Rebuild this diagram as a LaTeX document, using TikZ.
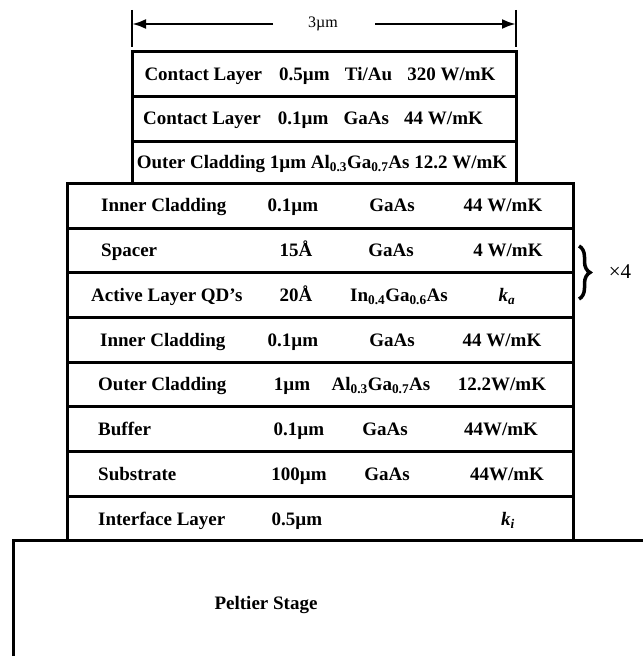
\documentclass[tikz,border=0pt]{standalone}
\usepackage{fontspec}
\setmainfont{Liberation Serif}
\usetikzlibrary{arrows.meta, decorations.pathreplacing}

\begin{document}
\begin{tikzpicture}[
    x=1pt, y=-1pt,
    layer/.style={line width=3pt},
    dimline/.style={line width=2.5pt},
    dimarrow/.style={-{Latex[length=14pt, width=10pt]}, line width=2.5pt},
    lbl/.style={font=\bfseries\fontsize{19}{22}\selectfont, inner sep=0pt, text height=13pt, text depth=0pt},
    note/.style={font=\fontsize{21}{24}\selectfont, inner sep=0pt}
]
\useasboundingbox (0,0) rectangle (643,661);

% Dimension line on top
\coordinate (dl) at (132,24);
\coordinate (dr) at (516,24);
\draw[dimline] (132,10) -- (132,47);
\draw[dimline] (516,10) -- (516,47);
\node[note, font=\fontsize{16}{18}\selectfont] (width) at (323,24) {3µm};
\draw[dimarrow] (273,24) -- (dl);
\draw[dimarrow] (375,24) -- (dr);

% Upper mesa (3 layers)
\draw[layer] (132,182) -- (132,52) -- (516,52) -- (516,182);
\draw[layer] (132,96) -- (516,96);
\draw[layer] (132,141) -- (516,141);

% Lower stack (8 layers)
\draw[layer] (67,183) rectangle (573,540);
\draw[layer] (67,228) -- (573,228);
\draw[layer] (67,272) -- (573,272);
\draw[layer] (67,317) -- (573,317);
\draw[layer] (67,362) -- (573,362);
\draw[layer] (67,406) -- (573,406);
\draw[layer] (67,451) -- (573,451);
\draw[layer] (67,496) -- (573,496);

% Peltier stage
\draw[layer] (13,656) -- (13,540) -- (643,540);
\node[lbl] (peltier) at (266,603) {Peltier Stage};

% Upper mesa labels
\node[lbl] (contact1) at (320,74) {Contact Layer\hspace{0.9em}0.5µm\hspace{0.8em}Ti/Au\hspace{0.8em}320 W/mK};
\node[lbl] (contact2) at (313,118) {Contact Layer\hspace{0.9em}0.1µm\hspace{0.8em}GaAs\hspace{0.8em}44 W/mK};
\node[lbl] (outer1) at (322,162) {Outer Cladding 1µm Al\textsubscript{0.3}Ga\textsubscript{0.7}As 12.2 W/mK};

% Inner cladding
\node[lbl, anchor=west] (ic1) at (101,205) {Inner Cladding};
\node[lbl] (ic1t) at (293,205) {0.1µm};
\node[lbl] (ic1m) at (392,205) {GaAs};
\node[lbl] (ic1k) at (503,205) {44 W/mK};

% Spacer
\node[lbl, anchor=west] (sp) at (101,250) {Spacer};
\node[lbl] (spt) at (296,250) {15Å};
\node[lbl] (spm) at (391,250) {GaAs};
\node[lbl] (spk) at (508,250) {4 W/mK};

% Active layer
\node[lbl, anchor=west] (act) at (91,295) {Active Layer QD’s};
\node[lbl] (actt) at (296,295) {20Å};
\node[lbl] (actm) at (399,295) {In\textsubscript{0.4}Ga\textsubscript{0.6}As};
\node[lbl] (actk) at (507,295) {\textit{k}\textsubscript{\textit{a}}};

% Inner cladding
\node[lbl, anchor=west] (ic2) at (100,340) {Inner Cladding};
\node[lbl] (ic2t) at (293,340) {0.1µm};
\node[lbl] (ic2m) at (392,340) {GaAs};
\node[lbl] (ic2k) at (502,340) {44 W/mK};

% Outer cladding
\node[lbl, anchor=west] (oc2) at (98,384) {Outer Cladding};
\node[lbl] (oc2t) at (292,384) {1µm};
\node[lbl] (oc2m) at (381,384) {Al\textsubscript{0.3}Ga\textsubscript{0.7}As};
\node[lbl] (oc2k) at (502,384) {12.2W/mK};

% Buffer
\node[lbl, anchor=west] (buf) at (98,429) {Buffer};
\node[lbl] (buft) at (299,429) {0.1µm};
\node[lbl] (bufm) at (385,429) {GaAs};
\node[lbl] (bufk) at (501,429) {44W/mK};

% Substrate
\node[lbl, anchor=west] (sub) at (98,474) {Substrate};
\node[lbl] (subt) at (299,474) {100µm};
\node[lbl] (subm) at (387,474) {GaAs};
\node[lbl] (subk) at (507,474) {44W/mK};

% Interface layer
\node[lbl, anchor=west] (intf) at (98,519) {Interface Layer};
\node[lbl] (intft) at (297,519) {0.5µm};
\node[lbl] (intfk) at (508,519) {\textit{k}\textsubscript{\textit{i}}};

% Repetition brace
\coordinate (brtop) at (579,246);
\coordinate (brbot) at (579,299);
\draw[line width=3.5pt, decorate, decoration={brace, amplitude=11pt}] (brtop) -- (brbot);
\node[note] (times) at (620,272) {×4};

\end{tikzpicture}
\end{document}
